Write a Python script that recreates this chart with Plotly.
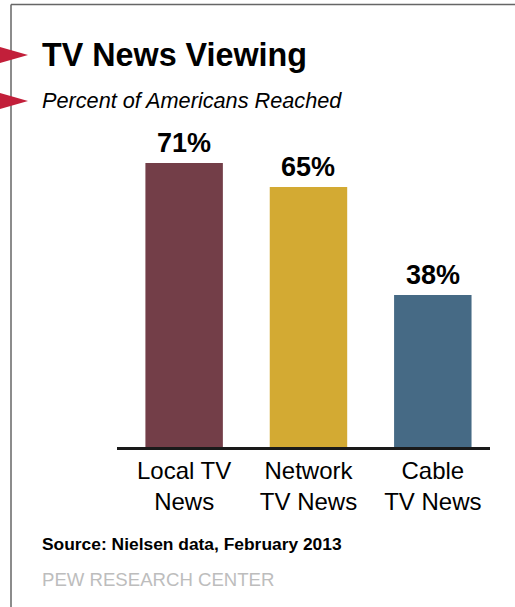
import plotly.graph_objects as go

categories = ["Local TV<br>News", "Network<br>TV News", "Cable<br>TV News"]
values = [71, 65, 38]
value_labels = ["71%", "65%", "38%"]
bar_colors = ["#733e48", "#d3aa33", "#466a85"]

title_text = "TV News Viewing"
subtitle_text = "Percent of Americans Reached"
source_text = "Source: Nielsen data, February 2013"
credit_text = "PEW RESEARCH CENTER"

FONT = "Liberation Sans, Arial, Helvetica, sans-serif"
W, H = 515, 607
L, R, T, B = 117, 25, 100, 160
PW, PH = W - L - R, H - T - B


def px(x):
    return (x - L) / PW


def py(y):
    return (H - B - y) / PH


fig = go.Figure()
fig.add_trace(go.Bar(
    x=categories, y=values,
    marker=dict(color=bar_colors, line=dict(width=0)),
    width=0.623, hoverinfo="skip",
))

annotations = []
for c, v, t in zip(categories, values, value_labels):
    annotations.append(dict(x=c, y=v, xref="x", yref="y", text="<b>" + t + "</b>",
                            showarrow=False, yanchor="middle", yshift=20,
                            font=dict(family=FONT, size=27, color="#000")))

annotations += [
    dict(x=px(40), y=py(54.5), xref="paper", yref="paper", text="<b>" + title_text + "</b>",
         showarrow=False, xanchor="left", yanchor="middle",
         font=dict(family=FONT, size=32.3, color="#000")),
    dict(x=px(40), y=py(100.5), xref="paper", yref="paper", text="<i>" + subtitle_text + "</i>",
         showarrow=False, xanchor="left", yanchor="middle",
         font=dict(family=FONT, size=21.7, color="#000")),
    dict(x=px(40), y=py(543.5), xref="paper", yref="paper", text="<b>" + source_text + "</b>",
         showarrow=False, xanchor="left", yanchor="middle",
         font=dict(family=FONT, size=17.4, color="#000")),
    dict(x=px(40), y=py(579), xref="paper", yref="paper", text=credit_text,
         showarrow=False, xanchor="left", yanchor="middle",
         font=dict(family=FONT, size=18.6, color="#bdbdbd")),
]

shapes = [
    # frame lines
    dict(type="line", xref="paper", yref="paper", x0=px(11), x1=px(11), y0=py(4.5), y1=py(607),
         line=dict(color="#666666", width=1.5)),
    dict(type="line", xref="paper", yref="paper", x0=px(11), x1=px(515), y0=py(4.5), y1=py(4.5),
         line=dict(color="#666666", width=1.5)),
]
for cy in (55, 101):
    path = "M {} {} L {} {} L {} {} Z".format(px(0), py(cy - 8), px(28), py(cy), px(0), py(cy + 8))
    shapes.append(dict(type="path", xref="paper", yref="paper", path=path,
                       fillcolor="#c21f3a", line=dict(width=0), layer="above"))

fig.update_layout(
    width=W, height=H,
    margin=dict(l=L, r=R, t=T, b=B),
    paper_bgcolor="white", plot_bgcolor="white",
    showlegend=False,
    xaxis=dict(range=[-0.54, 2.46], showline=True, linecolor="#1a1a1a", linewidth=2.5,
               ticks="", showgrid=False, zeroline=False,
               tickfont=dict(family=FONT, size=24, color="#000")),
    yaxis=dict(range=[0, PH / 4.0], visible=False, showgrid=False, zeroline=False),
    annotations=annotations,
    shapes=shapes,
)

fig.write_html("out.html", config={"displayModeBar": False},
               post_script="document.body.style.margin='0';document.body.style.overflow='hidden';")
